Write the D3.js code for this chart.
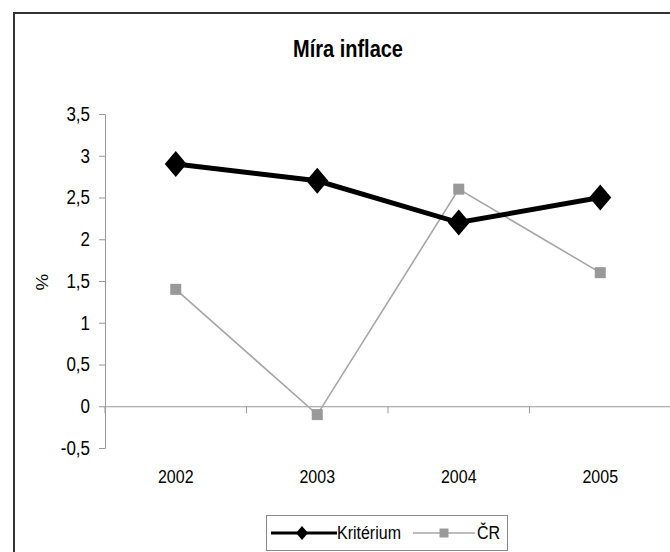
<!DOCTYPE html>
<html>
<head>
<meta charset="utf-8">
<script src="https://cdn.jsdelivr.net/npm/d3@7"></script>
<style>
  html, body { margin: 0; padding: 0; background: #fff; }
  svg { display: block; font-family: "Liberation Sans", Arial, sans-serif; }
</style>
</head>
<body>
<div id="chart"></div>
<script>
// data
const years = ['2002', '2003', '2004', '2005'];
const kriterium = [2.9, 2.7, 2.2, 2.5];
const cr = [1.4, -0.1, 2.6, 1.6];
const yTicks = [-0.5, 0, 0.5, 1, 1.5, 2, 2.5, 3, 3.5];

const W = 670, H = 552;
const SY = 1.18; // the source picture is stretched vertically
const svg = d3.select('#chart').append('svg').attr('width', W).attr('height', H);

// text placed at (x, y) baseline with vertical stretch
const label = (g, x, y, txt, size, opts = {}) => g.append('text')
  .attr('transform', `translate(${x},${y}) scale(1,${SY})` + (opts.rotate ? ` rotate(${opts.rotate})` : ''))
  .attr('text-anchor', opts.anchor || 'start')
  .style('font-size', size + 'px').style('font-weight', opts.weight || 400).text(txt);

// outer frame (right/bottom edges fall outside the picture)
svg.append('rect').attr('x', 14).attr('y', 13).attr('width', 720).attr('height', 620)
  .attr('fill', 'none').attr('stroke', '#333').attr('stroke-width', 2);

label(svg, 348, 57, 'Míra inflace', 20, { anchor: 'middle', weight: 700 });

const x = d3.scaleBand().domain(years).range([105, 671]);
const y = d3.scaleLinear().domain([-0.5, 3.5]).range([448, 114]);
const fmt = d => String(d).replace('.', ',');

// y axis
const gy = svg.append('g').attr('transform', 'translate(105,0)')
  .call(d3.axisLeft(y).tickValues(yTicks).tickFormat(fmt).tickSize(6).tickPadding(9));
gy.selectAll('path, line').attr('stroke', '#999');
gy.selectAll('text').style('font-size', '17px').attr('fill', '#000')
  .attr('transform', `scale(1,${SY})`);

// x axis sits on the zero line
const gx = svg.append('g').attr('transform', `translate(0,${y(0)})`)
  .call(d3.axisBottom(x).tickSize(0).tickFormat(''));
gx.select('path').attr('stroke', '#999');
gx.selectAll('line').remove();
const bounds = [105, ...years.slice(1).map(d => x(d)), 671];
gx.selectAll('line.b').data(bounds).join('line').attr('class', 'b')
  .attr('x1', d => d).attr('x2', d => d).attr('y1', 0).attr('y2', 7).attr('stroke', '#999');

const cx = d => x(d) + x.bandwidth() / 2;
const gl = svg.append('g');
years.forEach(d => label(gl, cx(d), 483, d, 16, { anchor: 'middle' }));

label(svg, 48, 282, '%', 16, { anchor: 'middle', rotate: -90 });

const diamond = (hw, hh) => `M0,${-hh}L${hw},0L0,${hh}L${-hw},0Z`;

// ČR series
svg.append('path').datum(cr)
  .attr('d', d3.line().x((d, i) => cx(years[i])).y(d => y(d)))
  .attr('fill', 'none').attr('stroke', '#a6a6a6').attr('stroke-width', 1.6);
svg.append('g').selectAll('rect').data(cr).join('rect')
  .attr('x', (d, i) => cx(years[i]) - 5.5).attr('y', d => y(d) - 5.5)
  .attr('width', 11).attr('height', 11).attr('fill', '#999');

// Kritérium series
svg.append('path').datum(kriterium)
  .attr('d', d3.line().x((d, i) => cx(years[i])).y(d => y(d)))
  .attr('fill', 'none').attr('stroke', '#000').attr('stroke-width', 5);
svg.append('g').selectAll('path').data(kriterium).join('path')
  .attr('transform', (d, i) => `translate(${cx(years[i])},${y(d)})`)
  .attr('d', diamond(11, 13)).attr('fill', '#000');

// legend
const lg = svg.append('g');
lg.append('rect').attr('x', 266.5).attr('y', 515.5).attr('width', 241).attr('height', 35)
  .attr('fill', '#fff').attr('stroke', '#888');
lg.append('line').attr('x1', 271).attr('x2', 337).attr('y1', 533).attr('y2', 533)
  .attr('stroke', '#000').attr('stroke-width', 3);
lg.append('path').attr('transform', 'translate(302,533)').attr('d', diamond(6, 7)).attr('fill', '#000');
label(lg, 337, 539, 'Kritérium', 16);
lg.append('line').attr('x1', 413).attr('x2', 475).attr('y1', 533).attr('y2', 533)
  .attr('stroke', '#a6a6a6').attr('stroke-width', 1.5);
lg.append('rect').attr('x', 439.5).attr('y', 528.5).attr('width', 9).attr('height', 9).attr('fill', '#999');
label(lg, 477, 539, 'ČR', 16);
</script>
</body>
</html>
